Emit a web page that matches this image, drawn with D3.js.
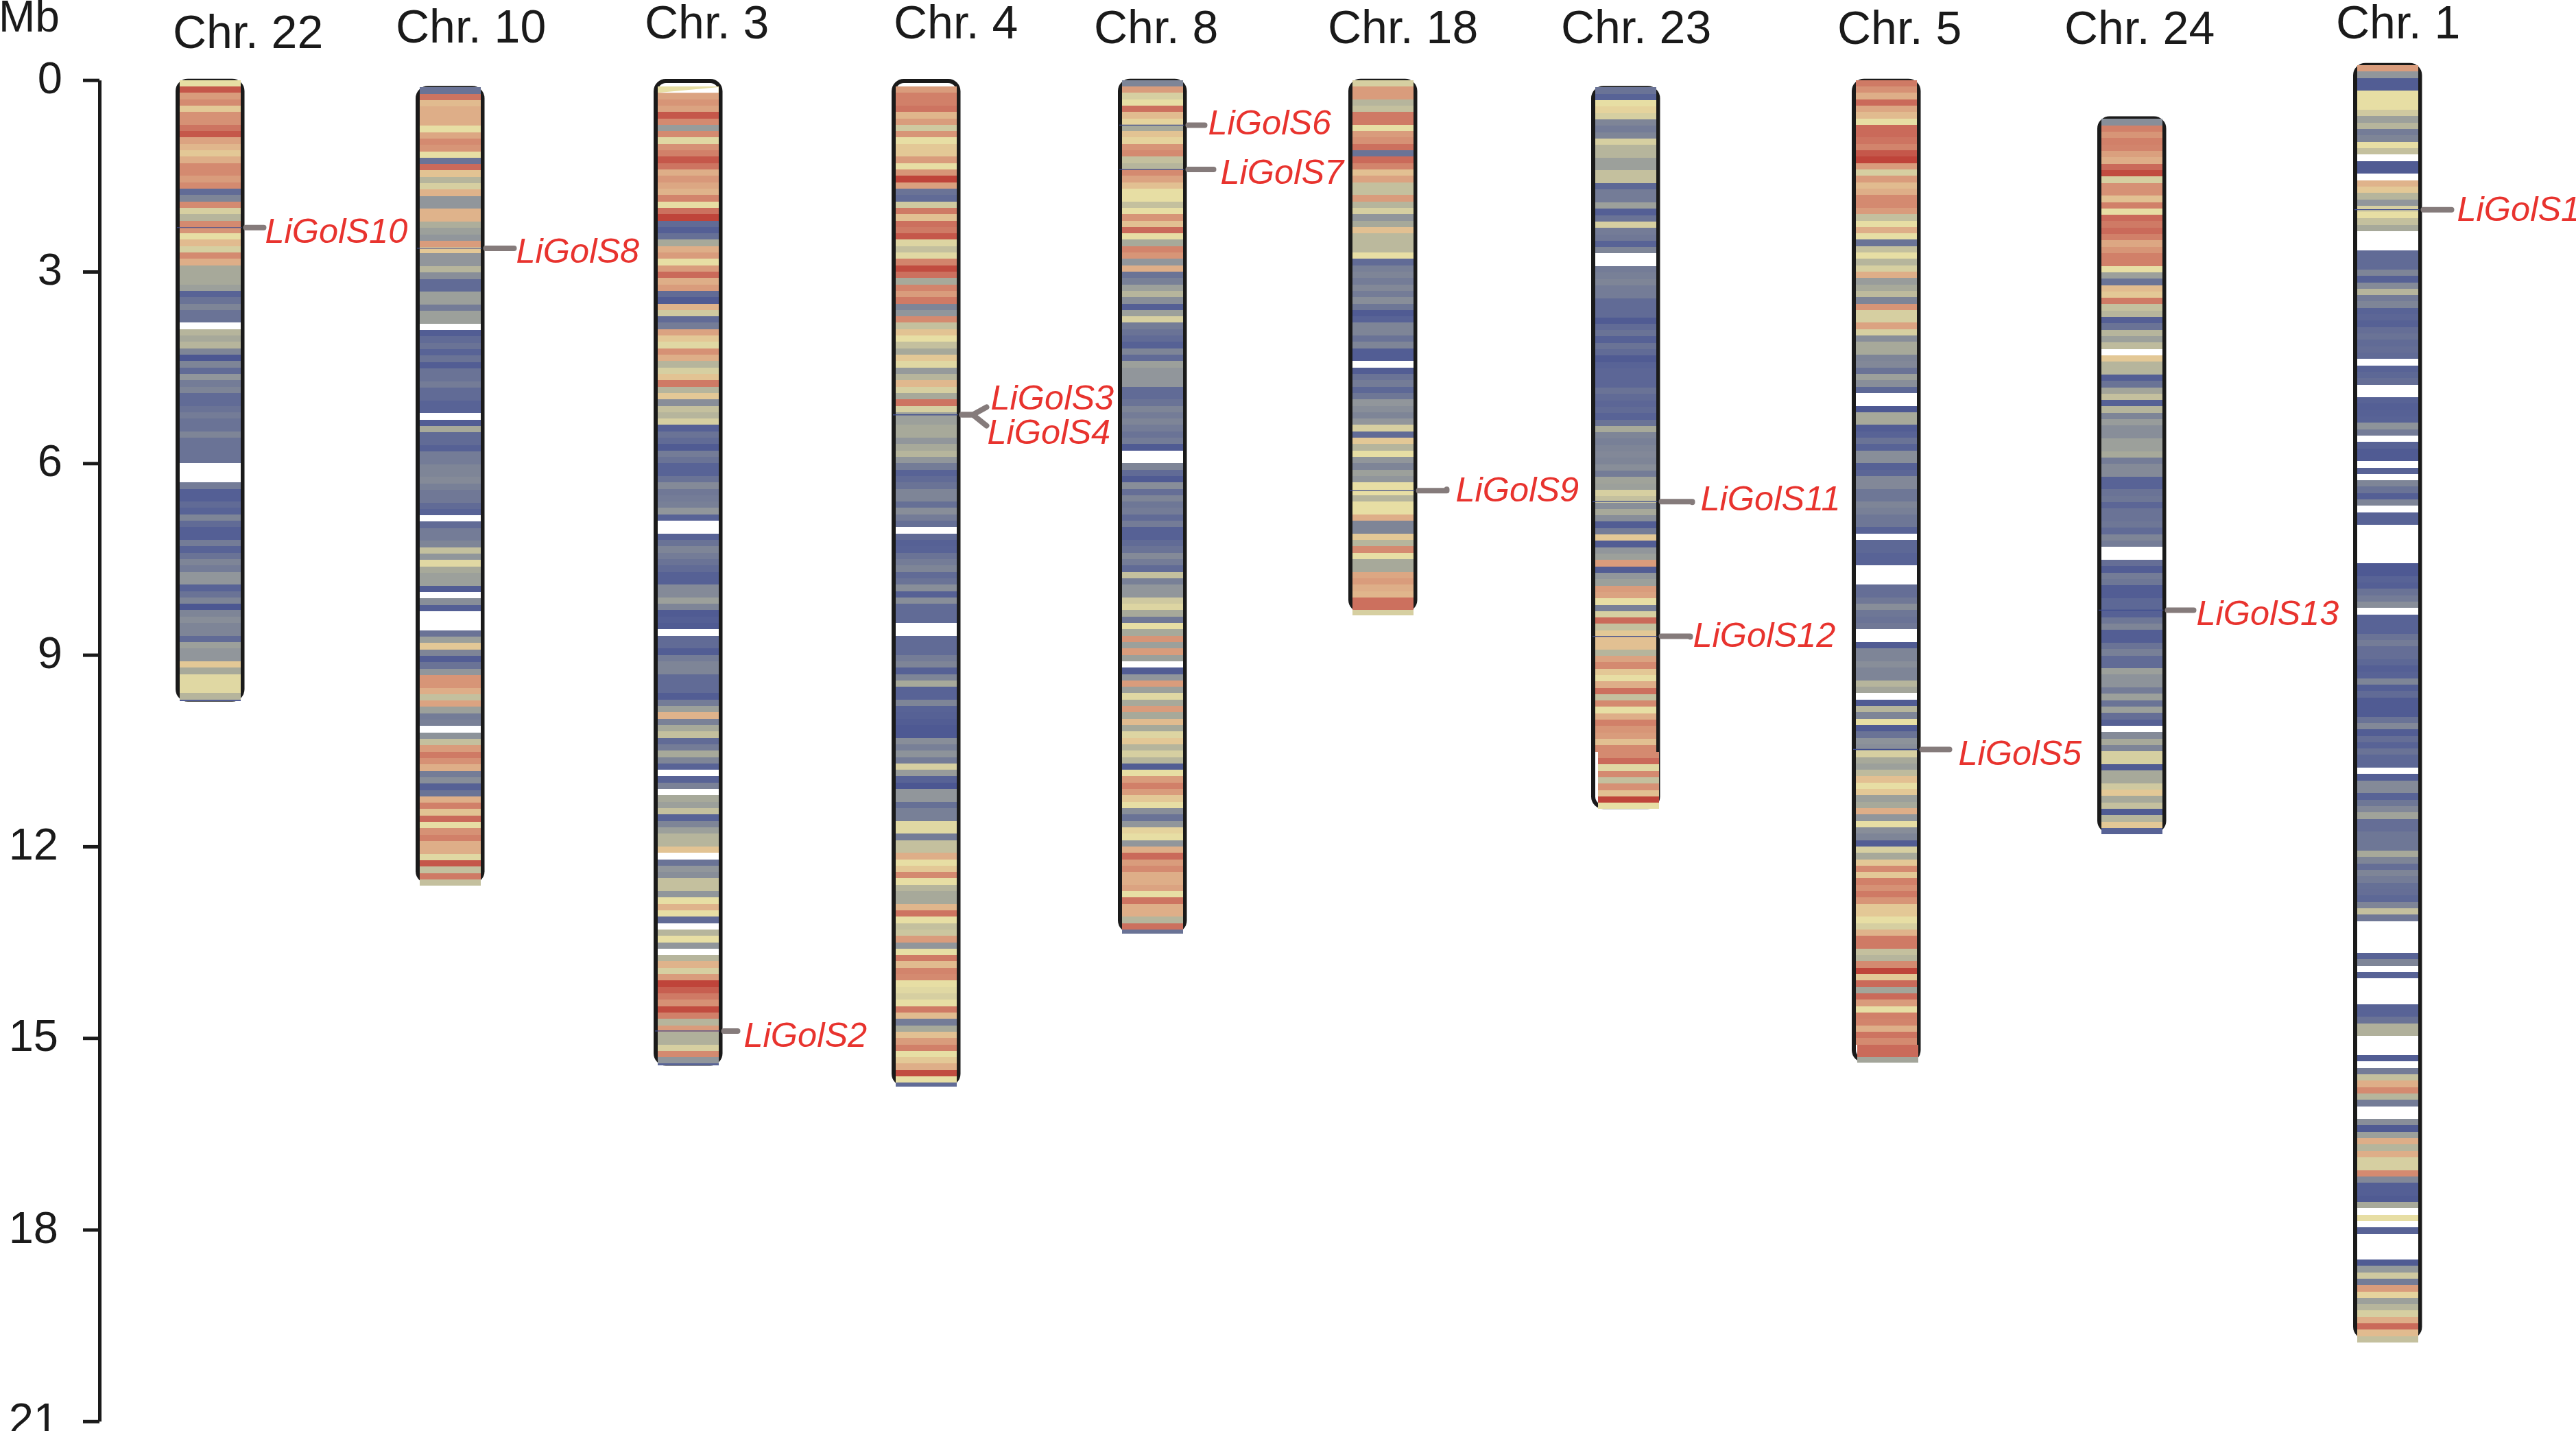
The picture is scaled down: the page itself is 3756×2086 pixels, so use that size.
<!DOCTYPE html>
<html>
<head>
<meta charset="utf-8">
<script src="https://cdnjs.cloudflare.com/ajax/libs/d3/7.8.5/d3.min.js"></script>
<style>
html,body{margin:0;padding:0;background:#fff;overflow:hidden}
svg{display:block}
text{font-family:"Liberation Sans",Arial,sans-serif}
</style>
</head>
<body>
<script>
const X = null; // no data (white gap)

// Density level of each 0.1 Mb bin, top to bottom (0 = low/blue ... 12 = high/red)
const chr22 = [7,11.5,9.5,10,8,9.8,9.8,10.7,11.5,9.3,8.7,8,9,10,10,9.5,10,1.5,3,10,6.5,5.5,10,9.7,7,8.5,6.5,10,9,5,5,5,4.5,1,2,3,2,2,X,5.5,5,5.5,3,0,3,1.5,4,2.5,3,1.5,1.5,2,2.5,2,2,3,2,2,2,2,X,X,X,2.5,.7,.7,1.5,1,3,1.5,.7,.7,2.5,1,2,3,2.5,4,4,1,2,3,0,3,3.5,3,3,1.5,4.5,4,4,8,5,6.8,6.8,6.8,5.5,.5];
const chr10 = [2,10.7,8.5,9,9,9,7,9.2,10,9.7,7,2,11,8.2,5.5,6.5,8.8,4,4,8.8,8.8,5.2,4.5,4,9.5,8,4,4,5.5,3.5,1.5,1.5,4.5,4.5,2.5,4.5,4.5,X,.5,1.5,2,1,2,.5,2,2,2.5,1.5,1.5,1,1,X,.5,5,1.5,1.5,.8,2.5,2.5,3,3,3.3,2.7,2.3,2.3,1.5,1,X,1.5,2.5,2.5,3,6,4,6.8,5,4.5,4.5,.5,X,3.5,.7,X,X,X,2,4.5,8,3,.5,2,4,9.7,9.7,9,6,9.3,4.5,2.5,2.8,X,3.8,6,9.5,10.5,9.8,9,2.5,3.5,.8,2,9,10.3,8.2,11,7,9.8,10.3,9,9,6.8,11.5,6,10.5,6];
const chr3 = [7,9.3,9.7,9.3,11.5,10,4.3,10,6.8,9.8,10.3,11.5,10.7,9,9.6,9.2,8.8,10.2,7,10.8,12,1.5,.7,1.8,5,9,9.5,7,9.5,11,9,9.5,1.5,.3,8.8,6.3,1.5,2.5,9.3,8,6.8,9.8,9,5.5,6.5,8.2,10.5,5.5,8,3.5,6,5.5,6.5,.8,2,1.5,.3,2.5,2,1,1,2,3.3,2.3,2.5,2.7,4,1,X,X,1,2,3,2.5,2,1.5,.8,.8,3.3,3.3,4.5,3,.3,.7,.3,X,1.5,1.5,.5,2.5,3,3,1.5,1.5,1.5,.5,2.5,4.5,8.8,2.8,5,6,1.5,2.5,5,3,1,X,1,2.8,X,5,4.5,6,1,3,4.5,5.5,5.5,8.2,X,2,4,3.5,6,6,4,7,8.8,7,1.5,X,5.5,7,4,X,5.5,8.8,6.5,9.5,12,11.3,10.5,9.8,11.8,10.3,5.5,9.5,5.3,5.3,6.5,10,4,1];
const chr4 = [9.5,10.3,10.3,10.7,8.7,9.5,6.3,9.7,7,8,8,9.5,7,9.7,12,9.4,2,1.5,6.3,10.5,8.3,10.8,10.5,11.5,6.7,6,6.8,10.2,11.8,10.8,5,10.2,9.5,10.5,3,4,10,6,8.2,7,6,5,8,6.8,4.2,5.5,8.6,6.5,5,10.7,6.5,4.5,4.5,5,5,4,5,5.5,4,2.5,1,1.5,2,3,3,1.8,3.5,2.5,1.8,X,1.5,.8,1,2,2.5,3,1.5,2,3.5,.8,3.5,1.5,1.5,1.5,X,X,1.5,1.5,1.5,2.5,3,.8,3,5,1,1,3,1,.8,.5,.2,.2,3.5,2.7,3.8,2.5,6.5,4.3,1,0,4,4,1.8,2.7,2.7,6.8,6.8,2.5,6,6,9,7,8,10,7,5.5,5,5,8.7,10.7,7,6,6.2,9.5,4,7,10.5,8.5,10.2,10,7,6.8,6.5,7,10.5,8.5,2.5,5,8.3,9.5,10.3,7,8,9,11.8,7,1.5];
const chr8 = [3,9.5,6.5,7,10.8,8.5,7.5,5,8.2,7.5,9.7,10,6,5.5,10,9.3,8.3,7,7,6,7,9.7,8.3,11,7,5,10.2,9.7,4,9,2,2.7,4.5,5.5,3.5,.7,4.5,6.5,2.5,2,1.5,.8,3,1.5,4.5,4,4,4,1.5,1.5,2,3,2.5,3,2.5,2,2.5,.3,X,X,3,1.5,.3,3.5,1.7,3,2.2,2.5,1.5,2.5,.8,.8,1.5,2,3.3,2.5,1.5,6,2.7,4,4,6.3,6.7,5,2.3,7,5,9.7,4.5,9.5,4.5,X,.5,4,9.5,4.5,6.8,5,9.5,5,8.5,5,6.7,8,5.5,6.5,5.5,.5,7,9.5,10.3,9.5,8,7,3.5,2,4,7.5,7,4,9,11,9.5,10,9,9,9.3,7,10.7,9,9,5.5,10.8,2];
const chr18 = [6.5,9.5,9.5,5.5,6,10.5,10.5,7,9.5,9.8,10.8,2,11,10.2,8.3,9.3,6,6,9.5,5.5,6.5,4,5,8.3,5.7,5.7,5.7,7,1.5,2.7,3,2.5,3.2,2.5,3.5,2.2,.3,1,3,3,2,3,.5,.5,X,.5,2,2.5,1.3,2.2,4,3.5,3,4,6.5,1.5,8,5.5,7,4,3,4.5,4,7,7,5.5,7,7,9,3,3,8,5.5,10,7,5,5,9.2,9.5,9,8.7,10.8,10.8,6.5];
const chr23 = [2,1,7,7.5,6.5,3,2.5,3,6.5,5.5,5.5,4.5,4.5,6,6,1.3,2.5,2.5,4.5,.7,2,6.5,2.5,2.3,1,3,X,X,2.5,2.7,3,2.5,2.5,1.5,1.5,1.5,.3,1.5,2,.8,2,1.5,.3,1,1.2,1.2,1.2,2,1.5,1.2,1.5,1,2,5,3,2.7,3,3.2,3,3.5,2.5,4.7,4.5,6.5,6,3.5,5,3.5,.5,2.5,8,.5,4,4.5,9.5,.5,4,4.5,9.5,9.3,7,2.7,6.5,11,6,8,8.3,8.3,5.5,9.3,10,8,7,9,10.8,6,10,7,9,10.3,9.7,9.5,8.3,10,10,11,6.8,10,6,9.8,8.3,12,7];
const chr5 = [10.5,9.8,9,11,9.2,8.5,7,11,11,10.7,10.2,11.5,12,9.5,6.5,9.5,8.5,9,10,10,9.5,6,7,9,7,2,6,7,5.5,6.5,9,4.3,5,5.8,3,9.7,6.5,6.5,9.3,6.5,3.5,5,5,3,3.2,2,4.5,3.5,1.3,X,X,.2,5,5,.5,1,2,1,3.5,3.5,.8,1.2,3.2,3.2,2.2,2.2,3,2.7,2.2,2.2,1,X,1.3,1.3,1,1,X,X,X,1.7,1.7,2.3,3.5,2.2,2,2.3,X,X,.3,3,3,3.5,3,3,5.5,4.8,X,.3,5.5,3,7,.3,2,3.8,3.5,6.5,5,4.5,5.8,8.3,7,8,4.5,5,9,4,7,3.5,3,.5,6.5,5,8,10,8,10.3,9.8,10.5,9.7,8,8,7,6.5,8.8,10.5,10.5,6,5.5,10,12,8,11,4.8,11,9.5,7,10.3,10.2,9,10.7,10,11,11,4.8];
const chr24 = [3.5,10.3,9.7,10.3,10.2,9.4,9,11,11.8,6.5,9.8,9.8,8.3,10.3,7,11,10.5,11,10.3,9.2,9.7,10.3,10.3,7,4.5,2,8.5,8,10.5,6,5.5,.7,2,5.5,4.5,5.8,X,8,5.5,5.5,.6,2,4.8,6,.8,5.5,3,4.3,3.5,3.5,4.5,4.5,5,2.5,3.3,3.3,1,1,2,2.2,1.2,2,2,2.2,1.5,3,2.5,X,X,1.7,.5,2.5,2.2,.5,.5,1.3,1.3,.8,2.2,3,.6,.6,2,2.7,1.5,1.5,4.5,3.8,3.8,2.5,4.5,2,4.5,1.7,.8,X,3.3,5,3,6.5,6.5,.3,5,5,6.3,8,5,6,.3,5.5,8,1];
const chr1 = [9.5,4,.5,.5,7,7,7,6.3,4.5,5.5,2.5,3,7,6,X,.3,.3,X,8.8,8,5.5,4,6.5,7,6,5,X,X,X,1.5,1.5,1.5,3,.8,3.3,5.5,2.5,3,1,1.2,.8,1.7,2,1.5,1.7,1.5,X,1,1.3,1.7,X,X,1,.7,.8,1,3.8,2.5,X,1,.3,.3,X,1,X,3,2,.7,3,X,1,1,X,X,X,X,X,X,.2,.2,1,.7,2,2.5,3.5,X,1,1,1,2,2.5,1.7,1.7,1.3,.7,1,3,.7,1.5,.3,.3,.3,2,3.2,.5,1.7,1,2,1.3,1.3,X,.7,3.3,3.3,1,2.2,3.2,4.7,1.7,1.7,2.2,2.2,2.2,5,3,1.7,3,2.5,1.8,1.7,1.3,3,6,2.3,X,X,X,X,X,1,3,X,1,X,X,X,X,1,1,2,5.3,5.3,X,X,X,.5,X,2.5,6,9,10,5.5,2.5,X,X,3.5,.3,4.5,9,5.5,9,6.5,6.5,10,3.2,.7,.7,.3,5,X,7,X,1,X,X,X,X,.3,4.2,6.3,2.5,9.5,7.5,4.5,5.5,6.5,9,11,8.5,6];

const chrNames  = ["Chr. 22","Chr. 10","Chr. 3","Chr. 4","Chr. 8","Chr. 18","Chr. 23","Chr. 5","Chr. 24","Chr. 1"];
const chrBins   = [chr22,chr10,chr3,chr4,chr8,chr18,chr23,chr5,chr24,chr1];
const chrStart  = [0,0.115,0.10,0.10,0,0,0.115,0,0.61,-0.233];      // Mb where first bin starts
const chrEnd    = [9.72,12.64,15.43,15.76,13.37,8.38,11.44,15.38,11.83,19.78]; // Mb where last bin stops
const bodyTop   = [0.01,0.125,0.015,0.015,0.01,0.01,0.125,0.01,0.6,-0.235];   // Mb, outline top
const bodyEnd   = [9.70,12.55,15.40,15.72,13.32,8.30,11.38,15.35,11.76,19.68]; // Mb, outline bottom

const markerNames = ["LiGolS10","LiGolS8","LiGolS2","LiGolS3","LiGolS4","LiGolS6","LiGolS7","LiGolS9","LiGolS11","LiGolS12","LiGolS5","LiGolS13","LiGolS1"];
const markerChr   = ["Chr. 22","Chr. 10","Chr. 3","Chr. 4","Chr. 4","Chr. 8","Chr. 8","Chr. 18","Chr. 23","Chr. 23","Chr. 5","Chr. 24","Chr. 1"];
const markerMb    = [2.31,2.635,14.89,5.24,5.24,0.706,1.40,6.43,6.60,8.71,10.48,8.30,2.03];

const axisTicks = [0,3,6,9,12,15,18,21];

/* ---------- layout (pixels), separate from the data ---------- */
const W = 3756, H = 2086;
const bandLeft  = [262,612,959,1306,1636,1972,2326,2706,3064,3437];
const bandWidth = 88.5;
const titleLeft = [254,579,942,1305,1597,1938,2278,2681,3012,3408];
const titleBase = [70,62,55.5,55.5,62.5,62.5,62.5,63.5,63.5,55.5];
const leaderLen = [26,41,20,16,16,24,37,41,45,42,40,38,41];
const labelGap  = [36,52,37,50,45,37,55,62,65,54,61,50,57];
const labelDy   = [22,21,23,-8,42,14,21,16,13,15,23,22,16];
const leaderEndDx=[0,0,0,20,20,0,0,0,0,0,0,0,0];
const leaderEndDy=[0,0,0,-11,16,0,0,-2,1,1,0,0,0];
const binShift  = {"Chr. 23":[104,4],"Chr. 5":[151,2]};

const y = d3.scaleLinear().domain([0,21]).range([116.7,2071.8]);
const x = d3.scaleOrdinal().domain(chrNames).range(bandLeft);
const color = d3.scaleLinear()
  .domain(d3.range(13))
  .range(["#4c5792","#586396","#6a7396","#7e8597","#91969b","#a7a99a","#c4c09e","#e7dea4","#e3c896","#deae88","#d48a70","#ca6a5a","#bf443a"]);

const svg = d3.select("body").append("svg").attr("width",W).attr("height",H).attr("viewBox",`0 0 ${W} ${H}`);
const ink = "#1a1a1a";

/* axis */
const axis = svg.append("g").attr("transform","translate(145,0)")
  .call(d3.axisLeft(y).tickValues(axisTicks).tickSize(24).tickPadding(30).tickSizeOuter(0));
axis.select(".domain").attr("stroke",ink).attr("stroke-width",5);
axis.selectAll(".tick line").attr("stroke",ink).attr("stroke-width",5);
axis.selectAll(".tick text")
  .attr("fill",ink).attr("font-size",65).attr("dy",null)
  .attr("y",18.5)
  .attr("x",d=>d>=12?-60:-54)
  .style("font-family",'"Liberation Sans",Arial,sans-serif');
svg.append("text").text("Mb").attr("x",-2).attr("y",46).attr("font-size",64).attr("fill",ink);

/* titles */
svg.selectAll(".title").data(chrNames).join("text").attr("class","title")
  .text(d=>d).attr("x",(d,i)=>titleLeft[i]-2).attr("y",(d,i)=>titleBase[i])
  .attr("font-size",68).attr("fill",ink);

/* chromosomes */
chrNames.forEach((name,i)=>{
  const g = svg.append("g");
  const left = x(name);
  g.append("rect")
    .attr("x",left-3).attr("width",bandWidth+6)
    .attr("y",y(bodyTop[i])).attr("height",y(bodyEnd[i])-y(bodyTop[i]))
    .attr("rx",15).attr("ry",15)
    .attr("fill","#fff").attr("stroke",ink).attr("stroke-width",6);
  const shift = binShift[name];
  g.selectAll("rect.bin").data(chrBins[i].map((v,k)=>({v,k}))).join("rect").attr("class","bin")
    .attr("x",d=>left+(shift&&d.k>=shift[0]?shift[1]:0))
    .attr("width",bandWidth)
    .attr("y",d=>y(chrStart[i]+d.k*0.1))
    .attr("height",d=>Math.max(0,y(Math.min(chrEnd[i],chrStart[i]+(d.k+1)*0.1))-y(chrStart[i]+d.k*0.1)))
    .attr("fill",d=>d.v===null?"#fff":color(d.v))
    .attr("shape-rendering","crispEdges");
  if(name==="Chr. 3"){ // first bin of Chr. 3 is drawn as a thin wedge
    const y0=y(chrStart[i]), y1=y(chrStart[i]+0.1);
    g.append("path").attr("fill","#fff")
      .attr("d",d3.line()([[left,y1],[left+bandWidth,y0+1],[left+bandWidth,y1]])+"Z");
  }
});

/* markers */
const line = d3.line();
markerNames.forEach((name,i)=>{
  const chr = markerChr[i], left = x(chr), right = left+bandWidth, yy = y(markerMb[i]);
  svg.append("line").attr("x1",left-4).attr("x2",right+2).attr("y1",yy).attr("y2",yy)
    .attr("stroke","#3c4a8e").attr("stroke-width",1.2);
  const pts = [[right+8,yy],[right+8+leaderLen[i],yy]];
  if(leaderEndDx[i]||leaderEndDy[i]) pts.push([right+8+leaderLen[i]+leaderEndDx[i],yy+leaderEndDy[i]]);
  svg.append("path").attr("d",line(pts)).attr("fill","none")
    .attr("stroke","#857b7b").attr("stroke-width",8).attr("stroke-linecap","round").attr("stroke-linejoin","round");
  svg.append("text").text(name)
    .attr("x",right+labelGap[i]).attr("y",yy+labelDy[i])
    .attr("font-size",50.5).attr("font-style","italic").attr("fill","#e8332e");
});
</script>
</body>
</html>
